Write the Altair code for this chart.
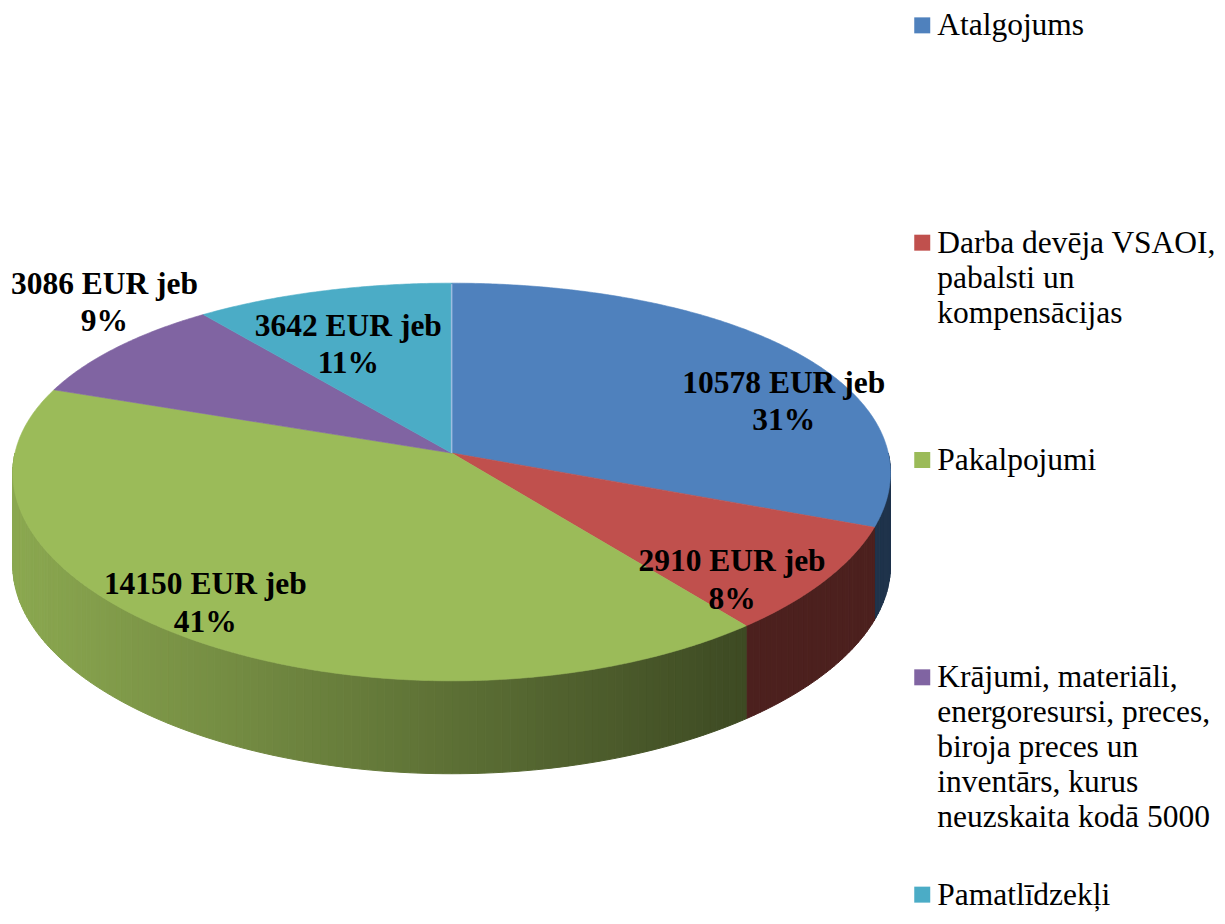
import math
import altair as alt
import pandas as pd

# ---------------- data ----------------
categories = [
    "Atalgojums",
    "Darba devēja VSAOI, pabalsti un kompensācijas",
    "Pakalpojumi",
    "Krājumi, materiāli, energoresursi, preces, biroja preces un inventārs, kurus neuzskaita kodā 5000",
    "Pamatlīdzekļi",
]
legend_text = [
    "Atalgojums",
    "Darba devēja VSAOI,\npabalsti un\nkompensācijas",
    "Pakalpojumi",
    "Krājumi, materiāli,\nenergoresursi, preces,\nbiroja preces un\ninventārs, kurus\nneuzskaita kodā 5000",
    "Pamatlīdzekļi",
]
values = [10578, 2910, 14150, 3086, 3642]
colors = ["#4f81bd", "#c0504d", "#9bbb59", "#8064a2", "#4bacc6"]

# label placement factors (relative to slice mid-angle on the ellipse)
label_fx = [0.98, 0.75, 0.90, 1.04, 0.80]
label_fy = [0.67, 0.86, 0.73, 1.585, 0.78]

# ---------------- geometry (styling) ----------------
W_PIE, H = 900, 897
CX, CY = 444, 445          # centre of the top face
AX, BX = 437, 44           # horizontal radius (with perspective term)
AY, BY = 199, 29           # vertical radius (with perspective term)
DEPTH = 93                 # thickness of the pie
FONT = "Liberation Serif"


def proj(deg):
    t = math.radians(deg)
    s, c = math.sin(t), math.cos(t)
    return CX + (AX - BX * c) * s, CY - (AY - BY * c) * c


def shade(hex_col, f):
    r, g, b = (int(hex_col[i:i + 2], 16) for i in (1, 3, 5))
    return "#%02x%02x%02x" % (int(r * f), int(g * f), int(b * f))


total = sum(values)
bounds = [0.0]
for v in values:
    bounds.append(bounds[-1] + v / total * 360.0)

# top faces
top_rows = []
for k, cat in enumerate(categories):
    a, b = bounds[k], bounds[k + 1]
    pts = [(CX, CY)]
    t = a
    while t < b:
        pts.append(proj(t))
        t += 0.5
    pts.append(proj(b))
    pts.append((CX, CY))
    for i, (x, y) in enumerate(pts):
        top_rows.append({"pid": f"top{k}", "i": i, "x": x, "y": y, "col": colors[k]})
top_df = pd.DataFrame(top_rows)

# highlight edge on the starting radius (12 o'clock)
p0 = proj(bounds[0])
edge_df = pd.DataFrame({"i": [0, 1], "x": [CX, p0[0]], "y": [CY, p0[1] + 1]})

# side walls (front half only), split in thin segments for shading
cuts = set(float(d) for d in range(90, 271, 1))
for bnd in bounds:
    if 90 < bnd < 270:
        cuts.add(bnd)
cuts = sorted(cuts)
wall_rows = []
for j in range(len(cuts) - 1):
    a, b = cuts[j], cuts[j + 1]
    m = (a + b) / 2
    k = max(i for i in range(len(values)) if bounds[i] <= m)
    pa, pb = proj(a), proj(b)
    xm = (pa[0] + pb[0]) / 2
    u = (xm - CX) / AX
    f = min(0.9, max(0.4, 0.6 - 0.3 * u))
    col = shade(colors[k], f)
    poly = [pa, pb, (pb[0], pb[1] + DEPTH), (pa[0], pa[1] + DEPTH), pa]
    for i, (x, y) in enumerate(poly):
        wall_rows.append({"pid": f"w{j}", "i": i, "x": x, "y": y, "col": col})
wall_df = pd.DataFrame(wall_rows)

# data labels
lab_rows = []
for k, v in enumerate(values):
    m = (bounds[k] + bounds[k + 1]) / 2
    t = math.radians(m)
    s, c = math.sin(t), math.cos(t)
    lx = CX + label_fx[k] * (AX - BX * c) * s
    ly = CY - label_fy[k] * (AY - BY * c) * c
    pct = round(v / total * 100)
    lab_rows.append({"x": lx, "y": ly, "txt": f"{v} EUR jeb\n{pct}%"})
lab_df = pd.DataFrame(lab_rows)

xs = alt.Scale(domain=[0, W_PIE], nice=False, zero=False)
ys = alt.Scale(domain=[0, H], nice=False, zero=False, reverse=True)


def poly_layer(df, sw):
    return alt.Chart(df).mark_line(strokeWidth=sw, strokeJoin="round").encode(
        x=alt.X("x:Q", scale=xs, axis=None),
        y=alt.Y("y:Q", scale=ys, axis=None),
        detail="pid:N",
        order=alt.Order("i:Q"),
        fill=alt.Fill("col:N", scale=None, legend=None),
        stroke=alt.Stroke("col:N", scale=None, legend=None),
    )


walls = poly_layer(wall_df, 1.0)
tops = poly_layer(top_df, 0.6)
edge = alt.Chart(edge_df).mark_line(color="#9dbde0", strokeWidth=1.5).encode(
    x=alt.X("x:Q", scale=xs, axis=None),
    y=alt.Y("y:Q", scale=ys, axis=None),
    order=alt.Order("i:Q"),
)
labels = alt.Chart(lab_df).mark_text(
    font=FONT, fontSize=31.5, fontWeight="bold", color="#000000",
    lineBreak="\n", lineHeight=37.5, align="center", baseline="middle",
).encode(
    x=alt.X("x:Q", scale=xs, axis=None),
    y=alt.Y("y:Q", scale=ys, axis=None),
    text="txt:N",
)

pie = alt.layer(walls, tops, edge, labels).properties(width=W_PIE, height=H)

# legend
leg_df = pd.DataFrame({"idx": list(range(len(categories))), "cat": categories,
                       "txt": legend_text, "col": colors})
ly_scale = alt.Scale(domain=[0, len(categories) - 1], range=[17, 887])
leg_sq = alt.Chart(leg_df).mark_square(size=256, opacity=1, filled=True).encode(
    x=alt.value(15),
    y=alt.Y("idx:Q", scale=ly_scale, axis=None),
    color=alt.Color("col:N", scale=None, legend=None),
)
leg_tx = alt.Chart(leg_df).mark_text(
    font=FONT, fontSize=31.5, color="#000000", align="left", baseline="alphabetic",
    lineBreak="\n", lineHeight=35, dy=10,
).encode(
    x=alt.value(30),
    y=alt.Y("idx:Q", scale=ly_scale, axis=None),
    text="txt:N",
)
legend = alt.layer(leg_sq, leg_tx).properties(width=300, height=H)

chart = alt.hconcat(pie, legend, spacing=0).properties(
    padding=0, background="white"
).configure_view(stroke=None).resolve_scale(x="independent", y="independent")

chart.save("out.html", embed_options={"renderer": "svg", "actions": False})
